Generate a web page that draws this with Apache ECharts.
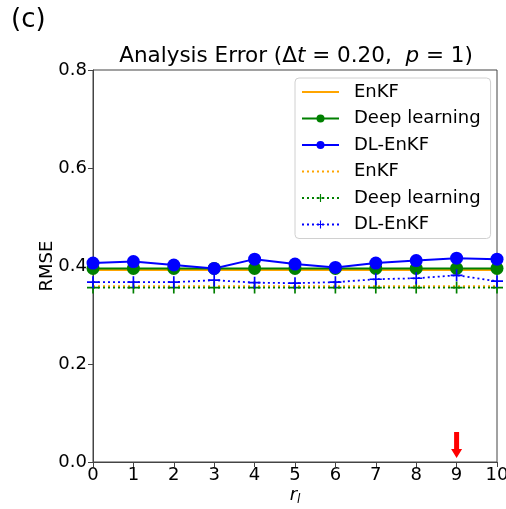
<!DOCTYPE html>
<html>
<head>
<meta charset="utf-8">
<script src="https://cdn.jsdelivr.net/npm/echarts@6/dist/echarts.min.js"></script>
<style>
  html, body { margin: 0; padding: 0; background: #fff; }
  #main { width: 506px; height: 509px; }
</style>
</head>
<body>
<div id="main"></div>
<script>
var chartDom = document.getElementById('main');
var myChart = echarts.init(chartDom);
var option;

// r_l values on the x axis
const rl = [0, 1, 2, 3, 4, 5, 6, 7, 8, 9, 10];

// solid lines
const enkfSolid = [0.392, 0.392, 0.392, 0.392, 0.392, 0.392, 0.392, 0.392, 0.392, 0.392, 0.392];
const dlSolid = [0.395, 0.395, 0.395, 0.395, 0.395, 0.395, 0.395, 0.395, 0.395, 0.395, 0.395];
const dlEnkfSolid = [0.406, 0.409, 0.402, 0.395, 0.414, 0.404, 0.397, 0.406, 0.411, 0.416, 0.414];
// dotted lines
const enkfDot = [0.359, 0.359, 0.359, 0.359, 0.359, 0.359, 0.359, 0.359, 0.359, 0.359, 0.359];
const dlDot = [0.356, 0.356, 0.356, 0.356, 0.356, 0.356, 0.356, 0.356, 0.356, 0.356, 0.356];
const dlEnkfDot = [0.367, 0.367, 0.367, 0.371, 0.366, 0.365, 0.367, 0.373, 0.375, 0.381, 0.369];

const arrowAt = 9;

const FONT = 'DejaVu Sans';
const plus = 'path://M4.3,0H5.7V4.3H10V5.7H5.7V10H4.3V5.7H0V4.3H4.3Z';

function pairs(ys) {
  return rl.map(function (x, i) { return [x, ys[i]]; });
}

function line(name, ys, color, dotted, symbol) {
  return {
    name: name,
    type: 'line',
    data: pairs(ys),
    color: color,
    symbol: symbol || 'none',
    symbolSize: symbol === 'circle' ? 13 : 12,
    showSymbol: !!symbol,
    lineStyle: { color: color, width: dotted ? 1.8 : 2, type: dotted ? [2, 3] : 'solid' },
    itemStyle: { color: color },
    emphasis: { disabled: true },
    animation: false,
    z: 2
  };
}

var series = [
  line('EnKF', enkfSolid, '#FFA500', false),
  line('Deep learning', dlSolid, '#008000', false, 'circle'),
  line('DL-EnKF', dlEnkfSolid, '#0000FF', false, 'circle'),
  line('EnKF ', enkfDot, '#FFA500', true),
  line('Deep learning ', dlDot, '#008000', true, plus),
  line('DL-EnKF ', dlEnkfDot, '#0000FF', true, plus)
];

// red arrow pointing at r_l = 9
series[2].markPoint = {
  symbol: 'path://M3,0H8V17H11L5.5,26L0,17H3Z',
  symbolSize: [11, 26],
  symbolOffset: [0, -17],
  itemStyle: { color: '#FF0000' },
  label: { show: false },
  silent: true,
  data: [{ coord: [arrowAt, 0] }]
};

option = {
  backgroundColor: '#fff',
  textStyle: { fontFamily: FONT, color: '#000' },
  title: [
    {
      text: '(c)',
      left: 6,
      top: 2,
      textStyle: { fontFamily: FONT, fontSize: 26, fontWeight: 'normal', color: '#000' }
    },
    {
      text: '{n|Analysis Error (Δ}{i|t}{n| = 0.20,  }{i|p}{n| = 1)}',
      left: 291,
      top: 40,
      textAlign: 'center',
      textStyle: {
        fontWeight: 'normal',
        rich: {
          n: { fontFamily: FONT, fontSize: 21.5, fontWeight: 'normal', color: '#000' },
          i: { fontFamily: FONT, fontSize: 21.5, fontWeight: 'normal', fontStyle: 'italic', color: '#000' }
        }
      }
    }
  ],
  legend: {
    orient: 'vertical',
    left: 295,
    top: 78,
    padding: [5, 10, 5, 6],
    itemWidth: 37,
    itemHeight: 10,
    itemGap: 8.5,
    borderColor: '#d0d0d0',
    borderWidth: 1,
    borderRadius: 4,
    backgroundColor: 'rgba(255,255,255,0.8)',
    data: series.map(function (s) {
      return s.showSymbol ? { name: s.name } : { name: s.name, itemStyle: { opacity: 0 } };
    }),
    formatter: function (name) { return name.trim(); },
    textStyle: { fontFamily: FONT, fontSize: 18, color: '#000', padding: [0, 0, 0, 10] }
  },
  grid: {
    left: 93,
    right: 9,
    top: 70,
    bottom: 47,
    outerBoundsMode: 'none',
    show: true,
    borderColor: '#444',
    borderWidth: 1
  },
  xAxis: {
    type: 'value',
    min: 0,
    max: 10,
    interval: 1,
    name: '{i|r}{s|l}',
    nameLocation: 'middle',
    nameGap: 22,
    nameMoveOverlap: false,
    nameTextStyle: {
      rich: {
        i: { fontFamily: FONT, fontSize: 18, fontStyle: 'italic', color: '#000' },
        s: { fontFamily: FONT, fontSize: 12, fontStyle: 'italic', color: '#000', verticalAlign: 'bottom', padding: [10, 0, 0, 0] }
      }
    },
    axisLine: { lineStyle: { color: '#444', width: 1 } },
    axisTick: { show: true, length: 5, inside: false, lineStyle: { color: '#444' } },
    axisLabel: { fontFamily: FONT, fontSize: 18, color: '#000', margin: 4 },
    splitLine: { show: false }
  },
  yAxis: {
    type: 'value',
    min: 0,
    max: 0.8,
    interval: 0.2,
    name: 'RMSE',
    nameLocation: 'middle',
    nameGap: 37,
    nameMoveOverlap: false,
    nameTextStyle: { fontFamily: FONT, fontSize: 18, color: '#000' },
    axisLine: { show: true, lineStyle: { color: '#444', width: 1 } },
    axisTick: { show: true, length: 5, inside: false, lineStyle: { color: '#444' } },
    axisLabel: {
      fontFamily: FONT,
      fontSize: 18,
      color: '#000',
      margin: 6,
      formatter: function (v) { return v.toFixed(1); }
    },
    splitLine: { show: false }
  },
  series: series
};

option && myChart.setOption(option);
</script>
</body>
</html>
